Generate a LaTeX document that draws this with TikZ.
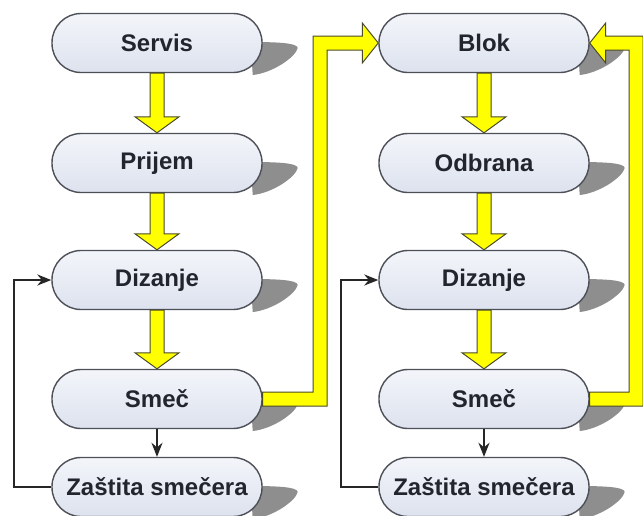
\documentclass[tikz,border=0pt]{standalone}
\usepackage{fontspec}
\setmainfont{Liberation Sans}
\usetikzlibrary{calc,backgrounds,arrows.meta}
\definecolor{boxtop}{HTML}{F3F5FA}
\definecolor{boxbot}{HTML}{DDE2EE}
\definecolor{boxline}{HTML}{4E5058}
\definecolor{txt}{HTML}{22252E}
\definecolor{yel}{HTML}{FFFF00}
\definecolor{yelline}{HTML}{4A4A28}
\definecolor{shad}{HTML}{8E8E8E}
\tikzset{
  box/.style={rectangle, rounded corners=29pt, minimum width=210pt, minimum height=59pt,
    draw=boxline, line width=1.4pt, top color=boxtop, bottom color=boxbot,
    font=\bfseries\fontsize{24}{26}\selectfont, text=txt, inner sep=0pt},
  yarr/.style={fill=yel, draw=yelline, line width=1pt, line join=miter},
  blk/.style={draw=black!85, line width=2.2pt, -{Stealth[length=14pt,width=11pt]}},
  shadowfill/.style={fill=shad}
}
\newcommand{\castshadow}[1]{%
  \fill[shadowfill] ($(#1.east)+(-12pt,1pt)$) .. controls ($(#1.east)+(15pt,1pt)$) and ($(#1.east)+(35pt,0pt)$) .. ($(#1.east)+(35pt,-5pt)$)
     .. controls ($(#1.east)+(33pt,-14pt)$) and ($(#1.east)+(10pt,-30pt)$) .. ($(#1.east)+(-10pt,-32pt)$) -- cycle;}
\newcommand{\yeldown}[2]{%
  \path let \p1=(#1.south), \p2=(#2.north) in
    [yarr] (\x1-7pt,\y1) -- (\x1-7pt,\y2+16pt) -- (\x1-22pt,\y2+16pt) -- (\x1,\y2)
      -- (\x1+22pt,\y2+16pt) -- (\x1+7pt,\y2+16pt) -- (\x1+7pt,\y1) -- cycle;}
\begin{document}
\begin{tikzpicture}[x=1pt,y=1pt]
\useasboundingbox (0,0) rectangle (643,-515);
% left column
\node[box] (servis) at (157,-43) {Servis};
\node[box] (prijem) at (157,-163) {Prijem};
\node[box] (dizL) at (157,-280) {Dizanje};
\node[box] (smecL) at (157,-399) {Smeč};
\node[box] (zasL) at (157,-487) {Zaštita smečera};
% right column
\node[box] (blok) at (484,-43) {Blok};
\node[box] (odbrana) at (484,-163) {Odbrana};
\node[box] (dizR) at (484,-280) {Dizanje};
\node[box] (smecR) at (484,-399) {Smeč};
\node[box] (zasR) at (484,-487) {Zaštita smečera};
\coordinate (colL) at (320,0);
\coordinate (colR) at (636,0);
\begin{scope}[on background layer]
  \fill[white] (0,0) rectangle (643,-515);
  \foreach \n in {servis,prijem,dizL,smecL,zasL,blok,odbrana,dizR,smecR,zasR}{\castshadow{\n}}
\end{scope}
% yellow vertical arrows
\yeldown{servis}{prijem}
\yeldown{prijem}{dizL}
\yeldown{dizL}{smecL}
\yeldown{blok}{odbrana}
\yeldown{odbrana}{dizR}
\yeldown{dizR}{smecR}
% yellow bent arrows
\path let \p1=(smecL.east), \p2=(blok.west), \p3=(colL) in
  [yarr] (\x1,\y1-7pt) -- (\x3+7pt,\y1-7pt) -- (\x3+7pt,\y2-7pt) -- (\x2-16pt,\y2-7pt)
   -- (\x2-16pt,\y2-20pt) -- (\x2,\y2) -- (\x2-16pt,\y2+20pt) -- (\x2-16pt,\y2+7pt)
   -- (\x3-7pt,\y2+7pt) -- (\x3-7pt,\y1+7pt) -- (\x1,\y1+7pt) -- cycle;
\path let \p1=(smecR.east), \p2=(blok.east), \p3=(colR) in
  [yarr] (\x1,\y1-7pt) -- (\x3+7pt,\y1-7pt) -- (\x3+7pt,\y2+7pt) -- (\x2+16pt,\y2+7pt)
   -- (\x2+16pt,\y2+20pt) -- (\x2,\y2) -- (\x2+16pt,\y2-20pt) -- (\x2+16pt,\y2-7pt)
   -- (\x3-7pt,\y2-7pt) -- (\x3-7pt,\y1+7pt) -- (\x1,\y1+7pt) -- cycle;
% black arrows
\draw[blk] (smecL) -- (zasL);
\draw[blk] (smecR) -- (zasR);
\draw[blk] (zasL.west) -- ++(-37,0) |- (dizL.west);
\draw[blk] (zasR.west) -- ++(-37,0) |- (dizR.west);
\end{tikzpicture}
\end{document}
